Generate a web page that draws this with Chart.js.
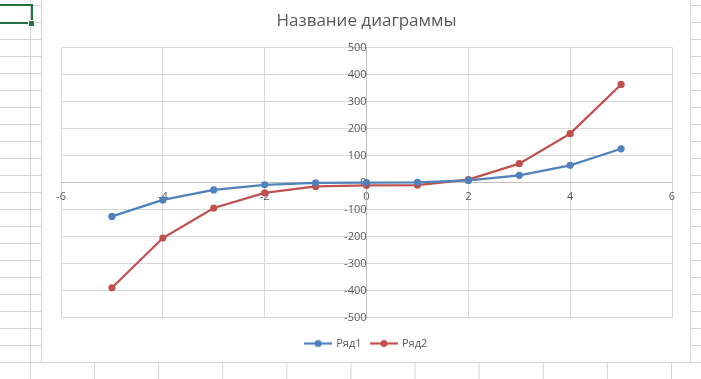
<!DOCTYPE html>
<html>
<head>
<meta charset="utf-8">
<script src="https://cdn.jsdelivr.net/npm/chart.js@4/dist/chart.umd.min.js"></script>
<style>
  html, body { margin: 0; padding: 0; width: 701px; height: 379px; overflow: hidden; background: #fff; }
  #rows { position: absolute; left: 0; top: 0; width: 701px; height: 363px;
    background-image: linear-gradient(to bottom, #d4d4d4 1px, transparent 1px);
    background-size: 100% 17px; background-position: 0 5px; }
  #cols { position: absolute; left: 0; top: 0; width: 701px; height: 379px;
    background-image: linear-gradient(to right, #d4d4d4 1px, transparent 1px);
    background-size: 64.1px 100%; background-position: 30px 0; }
  #sel { position: absolute; left: -4px; top: 4px; width: 33px; height: 16px; border: 2px solid #217346; }
  #handle { position: absolute; left: 28px; top: 20px; width: 5px; height: 5px; background: #217346; border: 1px solid #fff; }
  #box { position: absolute; left: 41px; top: -1px; width: 648px; height: 362px; border: 1px solid #d9d9d9; background: #fff; }
  #c { position: absolute; left: 42px; top: 0; }
</style>
</head>
<body>
<div id="cols"></div>
<div id="rows"></div>
<div id="sel"></div>
<div id="handle"></div>
<div id="box"></div>
<canvas id="c" width="648" height="379"></canvas>
<script>
const title = 'Название диаграммы';
const xValues = [-5, -4, -3, -2, -1, 0, 1, 2, 3, 4, 5];
const series1Name = 'Ряд1';
const series1 = [-125, -64, -27, -8, -1, 0, 1, 8, 27, 64, 125];
const series2Name = 'Ряд2';
const series2 = [-389, -205, -94, -38, -14, -10, -9, 11, 70, 181, 363];
const xTicks = [-6, -4, -2, 0, 2, 4, 6];
const yTicks = [-500, -400, -300, -200, -100, 0, 100, 200, 300, 400, 500];

const blue = '#4F81BD';
const red = '#C0504D';
const textColor = '#595959';
const fontFamily = '"Open Sans", "Liberation Sans", sans-serif';

function legendIcon(color) {
  const cv = document.createElement('canvas');
  cv.width = 28; cv.height = 10;
  const g = cv.getContext('2d');
  g.strokeStyle = color; g.lineWidth = 2.25;
  g.beginPath(); g.moveTo(0, 5); g.lineTo(28, 5); g.stroke();
  g.fillStyle = color;
  g.beginPath(); g.arc(14, 5, 3.6, 0, Math.PI * 2); g.fill();
  return cv;
}
const icons = [legendIcon(blue), legendIcon(red)];

function toPoints(ys) { return xValues.map((x, i) => ({ x: x, y: ys[i] })); }

new Chart(document.getElementById('c'), {
  type: 'line',
  data: {
    datasets: [
      { label: series1Name, data: toPoints(series1), borderColor: blue, backgroundColor: blue,
        borderWidth: 2.25, pointRadius: 3.6, pointHoverRadius: 3.6, pointBorderWidth: 0, tension: 0 },
      { label: series2Name, data: toPoints(series2), borderColor: red, backgroundColor: red,
        borderWidth: 2.25, pointRadius: 3.6, pointHoverRadius: 3.6, pointBorderWidth: 0, tension: 0 }
    ]
  },
  options: {
    responsive: false,
    animation: false,
    layout: { padding: { left: 19, right: 18, top: 0, bottom: 20 } },
    plugins: {
      title: { display: true, text: title, color: textColor,
        font: { family: fontFamily, size: 17, weight: 'normal' }, padding: { top: 11, bottom: 16 } },
      legend: {
        position: 'bottom',
        title: { display: true, text: ' ', font: { size: 1 }, padding: { top: 9, bottom: 0 } },
        labels: {
          usePointStyle: true, pointStyleWidth: 25, padding: 10, color: textColor,
          font: { family: fontFamily, size: 11 },
          generateLabels: (chart) => Chart.defaults.plugins.legend.labels.generateLabels(chart)
            .map(l => Object.assign(l, { pointStyle: icons[l.datasetIndex] }))
        }
      },
      tooltip: { enabled: false }
    },
    scales: {
      x: {
        type: 'linear', position: { y: 0 }, min: xTicks[0], max: xTicks[xTicks.length - 1],
        afterBuildTicks: (s) => { s.ticks = xTicks.map(v => ({ value: v })); },
        grid: { color: '#d9d9d9', drawTicks: false },
        border: { color: '#bfbfbf', width: 1 },
        ticks: { color: textColor, font: { family: fontFamily, size: 11 }, padding: 8 }
      },
      y: {
        type: 'linear', position: { x: 0 }, min: yTicks[0], max: yTicks[yTicks.length - 1],
        afterBuildTicks: (s) => { s.ticks = yTicks.map(v => ({ value: v })); },
        grid: { color: '#d9d9d9', drawTicks: false },
        border: { color: '#bfbfbf', width: 1 },
        ticks: { color: textColor, font: { family: fontFamily, size: 11 }, padding: 11 }
      }
    }
  }
});
</script>
</body>
</html>
